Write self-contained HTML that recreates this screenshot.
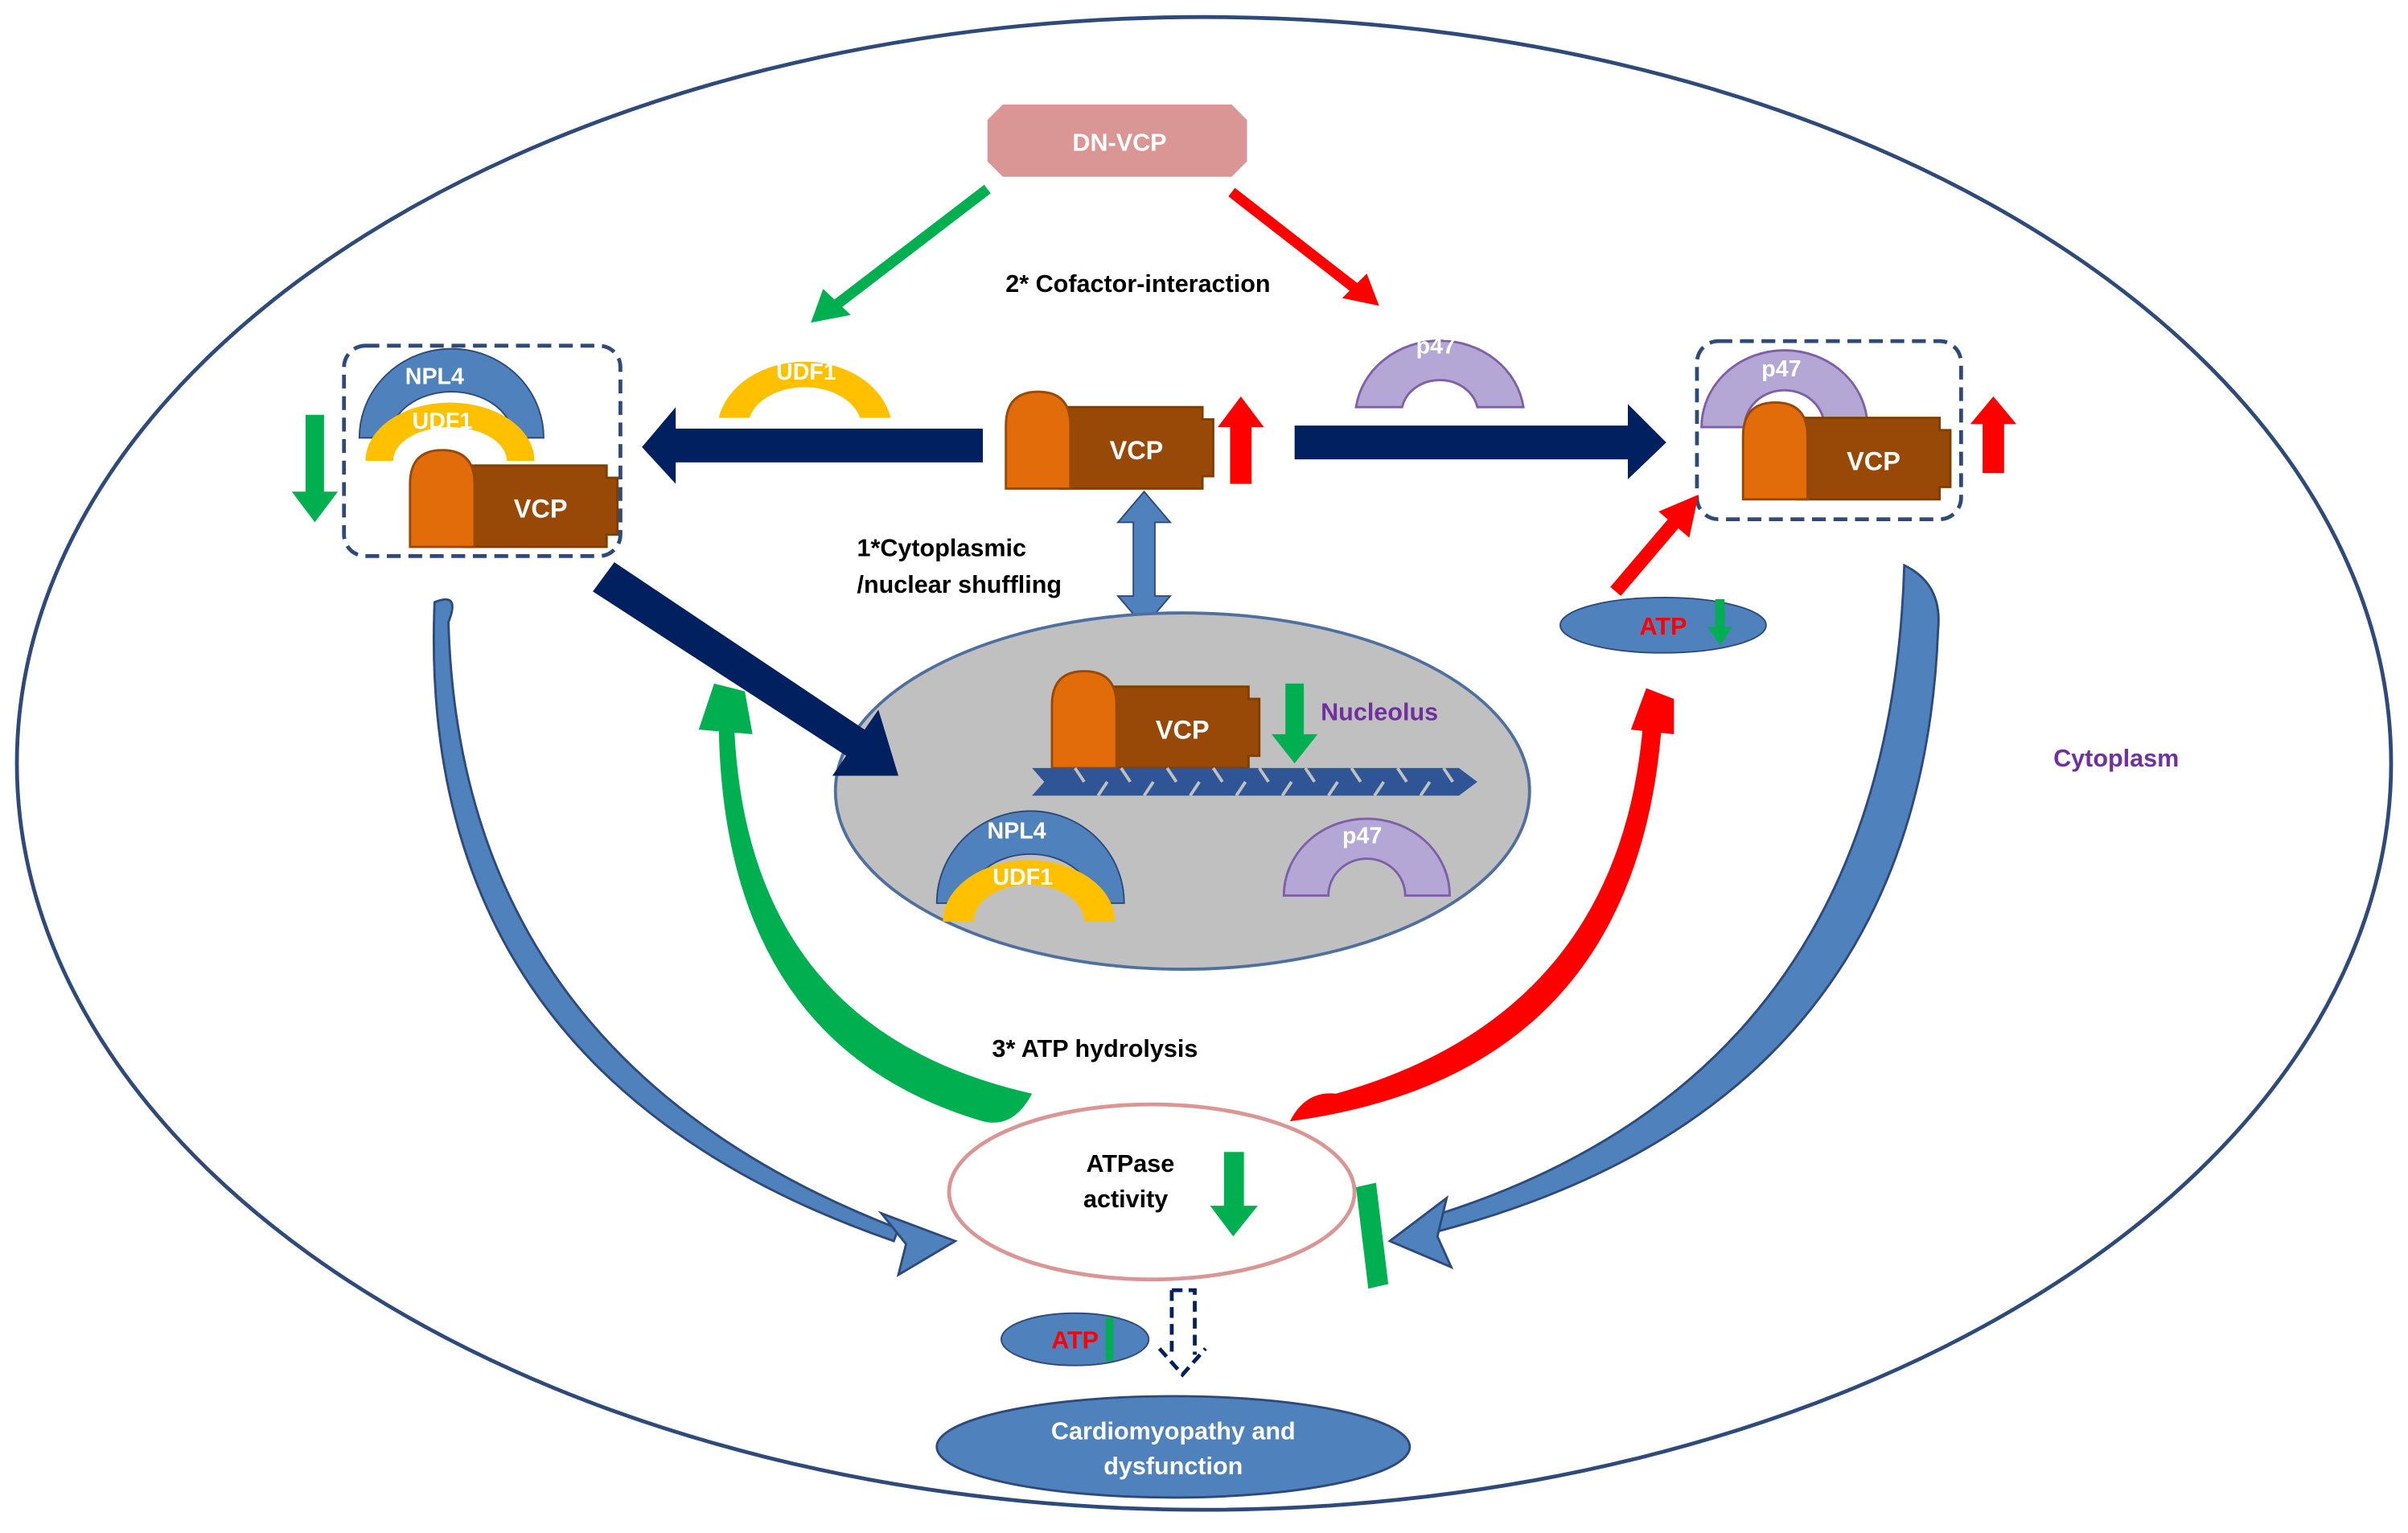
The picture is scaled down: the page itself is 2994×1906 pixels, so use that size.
<!DOCTYPE html>
<html><head><meta charset="utf-8"><style>
html,body{margin:0;padding:0;background:#fff;}
svg{display:block;}
text{font-family:"Liberation Sans",sans-serif;font-weight:bold;}
</style></head><body>
<svg width="2994" height="1906" viewBox="0 0 1568 998" xmlns="http://www.w3.org/2000/svg">
<defs>
<g id="vcp">
<path d="M35,10 L128,10 L128,18 L135,18 L135,55 L128,55 L128,63 L35,63 Z" fill="#984807" stroke="#7f3f00" stroke-width="1.5"/>
<path d="M0,63 L0,22 Q0,0 21,0 Q42,0 42,22 L42,63 Z" fill="#e36c0a" stroke="#984807" stroke-width="1.5"/>
<text x="85" y="44" fill="#fff" font-size="17" text-anchor="middle">VCP</text>
</g>
</defs>
<rect width="1568" height="998" fill="#fff"/>
<ellipse cx="784" cy="497" rx="773" ry="486" fill="none" stroke="#2e4a7a" stroke-width="2.5"/>

<!-- DN-VCP -->
<path d="M653,68 L802,68 L812,78 L812,105 L802,115 L653,115 L643,105 L643,78 Z" fill="#d99694"/>
<text x="729" y="98" fill="#fff" font-size="16" text-anchor="middle">DN-VCP</text>
<line x1="643" y1="123" x2="545" y2="198" stroke="#00b050" stroke-width="7"/>
<polygon points="528,210 536,188 554,205" fill="#00b050"/>
<line x1="802" y1="125" x2="883" y2="188" stroke="#ff0000" stroke-width="7"/>
<polygon points="898,199 874,194 890,178" fill="#ff0000"/>
<text x="741" y="190" font-size="16" text-anchor="middle">2* Cofactor-interaction</text>

<!-- UDF1 top -->
<path d="M468,272 A57,45 0 0 1 580,272 L560,272 A37,26 0 0 0 488,272 Z" fill="#ffc000"/>
<text x="525" y="247" fill="#fff" font-size="15" text-anchor="middle">UDF1</text>
<!-- p47 top -->
<path d="M883,265 A55,50 0 0 1 992,265 L962,265 A25,22 0 0 0 913,265 Z" fill="#b4a7d6" stroke="#7f5fa8" stroke-width="1.5"/>
<text x="935" y="230" fill="#fff" font-size="15" text-anchor="middle">p47</text>

<!-- center VCP -->
<use href="#vcp" x="655" y="255"/>
<polygon points="801,315 801,278 793,278 808,258 823,278 815,278 815,315" fill="#ff0000"/>

<!-- navy arrows -->
<polygon points="640,279 440,279 440,265 418,291 440,315 440,301 640,301" fill="#002060"/>
<polygon points="843,277 1060,277 1060,263 1085,288 1060,312 1060,299 843,299" fill="#002060"/>

<!-- Left dashed box -->
<rect x="224" y="225" width="180" height="137" rx="14" fill="none" stroke="#2e4a7a" stroke-width="2.5" stroke-dasharray="9,5"/>
<path d="M234,285 A60,58 0 0 1 354,285 L334,285 A40,30 0 0 0 254,285 Z" fill="#4f81bd" stroke="#2e4a7a" stroke-width="1"/>
<text x="283" y="250" fill="#fff" font-size="15" text-anchor="middle">NPL4</text>
<path d="M238,300 A55,38 0 0 1 348,300 L330,300 A37,22 0 0 0 256,300 Z" fill="#ffc000"/>
<text x="288" y="279" fill="#fff" font-size="15" text-anchor="middle">UDF1</text>
<use href="#vcp" x="267" y="293"/>
<polygon points="199,270 211,270 211,320 220,320 205,340 190,320 199,320" fill="#00b050"/>

<!-- Right dashed box -->
<rect x="1105" y="222" width="172" height="116" rx="14" fill="none" stroke="#2e4a7a" stroke-width="2.5" stroke-dasharray="9,5"/>
<path d="M1108,278 A54,50 0 0 1 1216,278 L1188,278 A26,24 0 0 0 1136,278 Z" fill="#b4a7d6" stroke="#7f5fa8" stroke-width="1.5"/>
<text x="1160" y="245" fill="#fff" font-size="15" text-anchor="middle">p47</text>
<use href="#vcp" x="1135" y="262"/>
<polygon points="1291,308 1291,276 1283,276 1298,258 1313,276 1305,276 1305,308" fill="#ff0000"/>

<!-- double arrow -->
<polygon points="738,340 738,388 728,388 745,408 762,388 752,388 752,340 762,340 745,320 728,340" fill="#4f81bd" stroke="#2e4a7a" stroke-width="1"/>
<text x="558" y="362" font-size="16">1*Cytoplasmic</text>
<text x="558" y="386" font-size="16">/nuclear shuffling</text>

<!-- nucleus -->
<ellipse cx="770" cy="515" rx="226" ry="116" fill="#c0c0c0" stroke="#4f6fa0" stroke-width="2"/>
<use href="#vcp" x="685" y="437"/>
<polygon points="837,445 849,445 849,478 858,478 843,497 828,478 837,478" fill="#00b050"/>
<text x="860" y="469" fill="#7030a0" font-size="16">Nucleolus</text>
<g fill="#2f5597">
<polygon points="672,500 950,500 962,509 950,518 672,518 680,509"/>
</g>
<g stroke="#c0c0c0" stroke-width="2">
<line x1="700" y1="500" x2="706" y2="509"/><line x1="730" y1="500" x2="736" y2="509"/><line x1="760" y1="500" x2="766" y2="509"/><line x1="790" y1="500" x2="796" y2="509"/><line x1="820" y1="500" x2="826" y2="509"/><line x1="850" y1="500" x2="856" y2="509"/><line x1="880" y1="500" x2="886" y2="509"/><line x1="910" y1="500" x2="916" y2="509"/><line x1="940" y1="500" x2="946" y2="509"/>
<line x1="715" y1="518" x2="721" y2="509"/><line x1="745" y1="518" x2="751" y2="509"/><line x1="775" y1="518" x2="781" y2="509"/><line x1="805" y1="518" x2="811" y2="509"/><line x1="835" y1="518" x2="841" y2="509"/><line x1="865" y1="518" x2="871" y2="509"/><line x1="895" y1="518" x2="901" y2="509"/><line x1="925" y1="518" x2="931" y2="509"/>
</g>
<path d="M610,588 A61,60 0 0 1 732,588 L712,588 A41,32 0 0 0 630,588 Z" fill="#4f81bd" stroke="#2e4a7a" stroke-width="1"/>
<text x="662" y="546" fill="#fff" font-size="15" text-anchor="middle">NPL4</text>
<path d="M614,600 A56,40 0 0 1 726,600 L706,600 A36,24 0 0 0 634,600 Z" fill="#ffc000"/>
<text x="666" y="576" fill="#fff" font-size="15" text-anchor="middle">UDF1</text>
<path d="M836,583 A54,50 0 0 1 944,583 L915,583 A25,24 0 0 0 865,583 Z" fill="#b4a7d6" stroke="#7f5fa8" stroke-width="1.5"/>
<text x="887" y="549" fill="#fff" font-size="15" text-anchor="middle">p47</text>

<!-- navy diagonal -->
<polygon points="386,385 400,366 563,475 572,462 585,505 542,505 551,492" fill="#002060"/>

<!-- ATP top right -->
<ellipse cx="1083" cy="407" rx="67" ry="18" fill="#4f81bd" stroke="#2e4a7a" stroke-width="1"/>
<text x="1083" y="413" fill="#ff0000" font-size="16" text-anchor="middle">ATP</text>
<polygon points="1117,390 1123,390 1123,408 1128,408 1120,420 1112,408 1117,408" fill="#00b050"/>
<line x1="1052" y1="385" x2="1092" y2="338" stroke="#ff0000" stroke-width="9"/>
<polygon points="1106,322 1100,350 1080,333" fill="#ff0000"/>

<!-- curved arrows -->
<path d="M283,392 Q300,385 292,405 Q300,690 585,800 L582,808 Q270,700 283,392 Z" fill="#4f81bd" stroke="#2e4a7a" stroke-width="1.5"/>
<polygon points="574,790 622,808 585,830 590,810" fill="#4f81bd" stroke="#2e4a7a" stroke-width="1.5"/>
<path d="M1240,368 Q1265,380 1262,410 Q1250,720 935,802 L932,792 Q1230,700 1240,368 Z" fill="#4f81bd" stroke="#2e4a7a" stroke-width="1.5"/>
<polygon points="942,780 905,808 945,825 936,805" fill="#4f81bd" stroke="#2e4a7a" stroke-width="1.5"/>
<path d="M672,712 Q660,735 640,730 Q470,680 468,470 L478,470 Q485,670 672,712 Z" fill="#00b050"/>
<polygon points="455,475 465,445 485,450 490,478" fill="#00b050"/>
<path d="M840,730 Q850,710 870,712 Q1055,660 1070,470 L1082,472 Q1065,700 840,730 Z" fill="#ff0000"/>
<polygon points="1062,475 1072,448 1090,455 1090,478" fill="#ff0000"/>
<text x="713" y="688" font-size="16" text-anchor="middle">3*  ATP hydrolysis</text>

<!-- ATPase -->
<ellipse cx="750" cy="776" rx="132" ry="57" fill="#fff" stroke="#d99694" stroke-width="2.5"/>
<text x="736" y="763" font-size="16" text-anchor="middle">ATPase</text>
<text x="733" y="786" font-size="16" text-anchor="middle">activity</text>
<polygon points="797,750 810,750 810,785 819,785 803,805 788,785 797,785" fill="#00b050"/>
<polygon points="883,773 896,770 904,836 891,839" fill="#00b050"/>

<!-- bottom -->
<ellipse cx="700" cy="872" rx="48" ry="17" fill="#4f81bd" stroke="#2e4a7a" stroke-width="1"/>
<text x="700" y="878" fill="#ff0000" font-size="16" text-anchor="middle">ATP</text>
<rect x="720" y="858" width="5" height="28" fill="#00b050"/>
<path d="M763,840 L778,840 L778,882 M763,840 L763,882 M755,878 L770,895 L785,878" fill="none" stroke="#002060" stroke-width="2.5" stroke-dasharray="7,4"/>
<ellipse cx="764" cy="942" rx="154" ry="33" fill="#4f81bd" stroke="#2e4a7a" stroke-width="1.5"/>
<text x="764" y="937" fill="#fff" font-size="16" text-anchor="middle">Cardiomyopathy and</text>
<text x="764" y="960" fill="#fff" font-size="16" text-anchor="middle">dysfunction</text>

<text x="1378" y="499" fill="#7030a0" font-size="16" text-anchor="middle">Cytoplasm</text>
</svg>
</body></html>
